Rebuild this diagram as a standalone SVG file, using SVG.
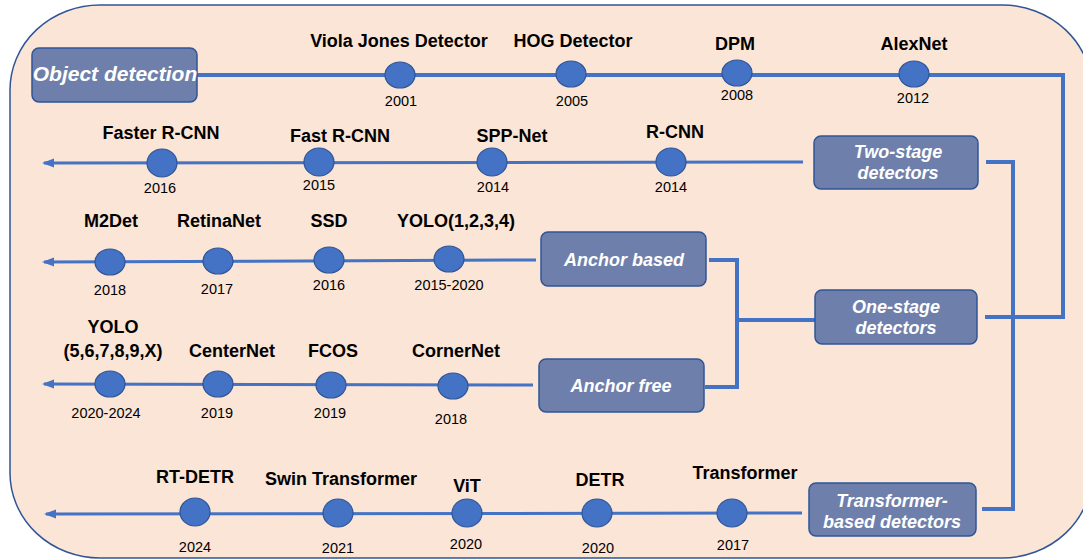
<svg xmlns="http://www.w3.org/2000/svg" width="1083" height="560" viewBox="0 0 1083 560">
<defs>
<style>
.lbl{font-family:"Liberation Sans",Arial,sans-serif;font-weight:bold;font-size:18px;fill:#000;text-anchor:middle}
.yr{font-family:"Liberation Sans",Arial,sans-serif;font-size:14.5px;fill:#000;text-anchor:middle}
.bt{font-family:"Liberation Sans",Arial,sans-serif;font-weight:bold;font-style:italic;font-size:18px;fill:#fff;text-anchor:middle}
.box{fill:#6F7FAB;stroke:#2F5597;stroke-width:1.5}
.dot{fill:#4472C4;stroke:#2F5597;stroke-width:1.2}
.ln{stroke:#4472C4;stroke-width:3;fill:none}
.cn{stroke:#4472C4;stroke-width:4;fill:none}
</style>
<marker id="arr" markerWidth="12" markerHeight="10" refX="10" refY="5" orient="auto" markerUnits="userSpaceOnUse">
<path d="M0,0.5 L12,5 L0,9.5 Z" fill="#4472C4"/>
</marker>
</defs>
<rect x="10" y="5" width="1082" height="553" rx="90" ry="85" fill="#FBE5D6" stroke="#2F5597" stroke-width="1.5"/>

<g id="connectors">
<polyline class="cn" points="197,75 1063,75 1063,317 985,317"/>
<line class="ln" x1="803" y1="162" x2="44" y2="163" marker-end="url(#arr)"/>
<line class="ln" x1="536" y1="260" x2="44" y2="262" marker-end="url(#arr)"/>
<line class="ln" x1="533" y1="385" x2="44" y2="384" marker-end="url(#arr)"/>
<line class="ln" x1="802" y1="513" x2="46" y2="514" marker-end="url(#arr)"/>
<polyline class="cn" points="986,162 1013,162 1013,509 982,509"/>
<polyline class="cn" points="709,260 737,260 737,387 705,387"/>
<line class="cn" x1="737" y1="320" x2="815" y2="320"/>
</g>

<g id="object-detection">
<rect class="box" x="32" y="48" width="165" height="54" rx="7"/>
<text class="bt" x="115" y="81" style="font-size:21px">Object detection</text>
</g>
<g id="two-stage">
<rect class="box" x="814" y="136" width="164" height="53" rx="7"/>
<text class="bt" x="898" y="158">Two-stage</text>
<text class="bt" x="898" y="179">detectors</text>
</g>
<g id="anchor-based">
<rect class="box" x="541" y="232" width="165" height="54" rx="7"/>
<text class="bt" x="624" y="266">Anchor based</text>
</g>
<g id="anchor-free">
<rect class="box" x="539" y="359" width="165" height="53" rx="7"/>
<text class="bt" x="621" y="392">Anchor free</text>
</g>
<g id="one-stage">
<rect class="box" x="815" y="290" width="162" height="54" rx="7"/>
<text class="bt" x="896" y="313">One-stage</text>
<text class="bt" x="896" y="334">detectors</text>
</g>
<g id="transformer-based">
<rect class="box" x="809" y="483" width="167" height="53" rx="7"/>
<text class="bt" x="892" y="507">Transformer-</text>
<text class="bt" x="892" y="528">based detectors</text>
</g>

<g id="viola-jones"><ellipse class="dot" cx="400" cy="75" rx="15" ry="13"/><text class="lbl" x="399" y="47">Viola Jones Detector</text><text class="yr" x="401" y="106">2001</text></g>
<g id="hog"><ellipse class="dot" cx="571" cy="74" rx="15" ry="13"/><text class="lbl" x="573" y="47">HOG Detector</text><text class="yr" x="572" y="106">2005</text></g>
<g id="dpm"><ellipse class="dot" cx="737" cy="73" rx="15" ry="13"/><text class="lbl" x="735" y="50">DPM</text><text class="yr" x="737" y="100">2008</text></g>
<g id="alexnet"><ellipse class="dot" cx="914" cy="74" rx="15" ry="13"/><text class="lbl" x="914" y="50">AlexNet</text><text class="yr" x="913" y="103">2012</text></g>

<g id="faster-rcnn"><ellipse class="dot" cx="162" cy="163" rx="15" ry="14"/><text class="lbl" x="161" y="139">Faster R-CNN</text><text class="yr" x="160" y="193">2016</text></g>
<g id="fast-rcnn"><ellipse class="dot" cx="319" cy="162" rx="15" ry="14"/><text class="lbl" x="340" y="142">Fast R-CNN</text><text class="yr" x="319" y="190">2015</text></g>
<g id="spp-net"><ellipse class="dot" cx="492" cy="162" rx="15" ry="14"/><text class="lbl" x="512" y="142">SPP-Net</text><text class="yr" x="493" y="192">2014</text></g>
<g id="rcnn"><ellipse class="dot" cx="671" cy="162" rx="15" ry="14"/><text class="lbl" x="675" y="138">R-CNN</text><text class="yr" x="671" y="192">2014</text></g>

<g id="m2det"><ellipse class="dot" cx="110" cy="262" rx="15" ry="13"/><text class="lbl" x="111" y="227">M2Det</text><text class="yr" x="110" y="295">2018</text></g>
<g id="retinanet"><ellipse class="dot" cx="218" cy="261" rx="15" ry="13"/><text class="lbl" x="219" y="227">RetinaNet</text><text class="yr" x="217" y="294">2017</text></g>
<g id="ssd"><ellipse class="dot" cx="329" cy="260" rx="15" ry="13"/><text class="lbl" x="329" y="227">SSD</text><text class="yr" x="329" y="290">2016</text></g>
<g id="yolo1234"><ellipse class="dot" cx="449" cy="259" rx="15" ry="13"/><text class="lbl" x="456" y="227">YOLO(1,2,3,4)</text><text class="yr" x="449" y="290">2015-2020</text></g>

<g id="yolo5x"><ellipse class="dot" cx="110" cy="384" rx="15" ry="13"/><text class="lbl" x="113" y="333">YOLO</text><text class="lbl" x="113" y="357">(5,6,7,8,9,X)</text><text class="yr" x="106" y="418">2020-2024</text></g>
<g id="centernet"><ellipse class="dot" cx="218" cy="384" rx="15" ry="13"/><text class="lbl" x="232" y="357">CenterNet</text><text class="yr" x="217" y="418">2019</text></g>
<g id="fcos"><ellipse class="dot" cx="331" cy="385" rx="15" ry="13"/><text class="lbl" x="333" y="357">FCOS</text><text class="yr" x="330" y="418">2019</text></g>
<g id="cornernet"><ellipse class="dot" cx="453" cy="386" rx="15" ry="13"/><text class="lbl" x="456" y="357">CornerNet</text><text class="yr" x="451" y="424">2018</text></g>

<g id="rt-detr"><ellipse class="dot" cx="195" cy="512" rx="15" ry="14"/><text class="lbl" x="195" y="483">RT-DETR</text><text class="yr" x="195" y="552">2024</text></g>
<g id="swin"><ellipse class="dot" cx="338" cy="513" rx="15" ry="14"/><text class="lbl" x="341" y="485">Swin Transformer</text><text class="yr" x="338" y="553">2021</text></g>
<g id="vit"><ellipse class="dot" cx="467" cy="513" rx="15" ry="14"/><text class="lbl" x="467" y="492">ViT</text><text class="yr" x="466" y="549">2020</text></g>
<g id="detr"><ellipse class="dot" cx="597" cy="513" rx="15" ry="14"/><text class="lbl" x="600" y="486">DETR</text><text class="yr" x="598" y="553">2020</text></g>
<g id="transformer"><ellipse class="dot" cx="732" cy="513" rx="15" ry="14"/><text class="lbl" x="745" y="479">Transformer</text><text class="yr" x="733" y="550">2017</text></g>
</svg>
